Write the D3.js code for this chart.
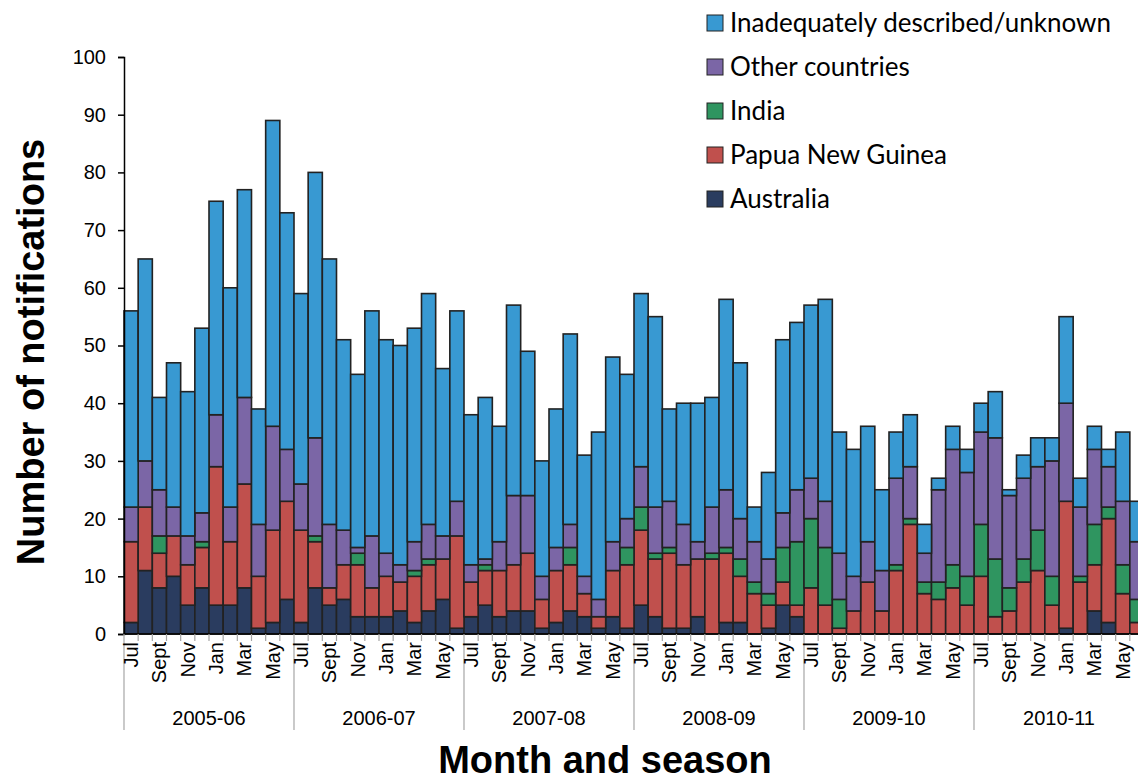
<!DOCTYPE html>
<html>
<head>
<meta charset="utf-8">
<script src="https://cdn.jsdelivr.net/npm/d3@7"></script>
<style>
  body { margin: 0; background: #fff; }
  .axis text { font-family: "Liberation Sans", Arial, sans-serif; font-size: 20px; fill: #000; }
</style>
</head>
<body>
<div class="chart"></div>
<script>
// Data (Jul..Jun per season)
var seasons = ["2005-06", "2006-07", "2007-08", "2008-09", "2009-10", "2010-11"];
var months = ["Jul", "Aug", "Sept", "Oct", "Nov", "Dec", "Jan", "Feb", "Mar", "Apr", "May", "Jun"];
var seriesNames = ["Australia", "Papua New Guinea", "India", "Other countries", "Inadequately described/unknown"];
var seriesColors = ["#2a3c5f", "#c0504d", "#2f9560", "#7b66a6", "#3899d2"];

var australia = [
  2, 11, 8, 10, 5, 8, 5, 5, 8, 1, 2, 6,
  2, 8, 5, 6, 3, 3, 3, 4, 2, 4, 6, 1,
  3, 5, 3, 4, 4, 1, 2, 4, 3, 1, 3, 1,
  5, 3, 1, 1, 3, 0, 2, 2, 0, 1, 5, 3,
  0, 0, 0, 0, 0, 0, 0, 0, 0, 0, 0, 0,
  0, 0, 0, 0, 0, 0, 1, 0, 4, 2, 0, 0
];
var papuaNewGuinea = [
  14, 11, 6, 7, 7, 7, 24, 11, 18, 9, 16, 17,
  16, 8, 3, 6, 9, 5, 7, 5, 8, 8, 7, 16,
  6, 6, 8, 8, 10, 5, 9, 8, 4, 2, 8, 11,
  13, 10, 13, 11, 10, 13, 12, 8, 7, 4, 4, 2,
  8, 5, 1, 4, 9, 4, 11, 19, 7, 6, 8, 5,
  10, 3, 4, 9, 11, 5, 22, 9, 8, 18, 7, 2
];
var india = [
  0, 0, 3, 0, 0, 1, 0, 0, 0, 0, 0, 0,
  0, 1, 0, 0, 2, 0, 0, 0, 1, 1, 0, 0,
  0, 1, 0, 0, 0, 0, 0, 3, 0, 0, 0, 3,
  4, 1, 1, 0, 0, 1, 1, 3, 2, 2, 6, 11,
  12, 10, 5, 0, 0, 0, 1, 1, 2, 3, 4, 5,
  9, 10, 4, 4, 7, 5, 0, 1, 7, 2, 5, 4
];
var otherCountries = [
  6, 8, 8, 5, 5, 5, 9, 6, 15, 9, 18, 9,
  8, 17, 11, 6, 1, 9, 4, 3, 5, 6, 4, 6,
  3, 1, 5, 12, 10, 4, 4, 4, 3, 3, 5, 5,
  7, 8, 8, 7, 3, 8, 10, 7, 7, 6, 6, 9,
  7, 8, 8, 6, 7, 7, 15, 9, 5, 16, 20, 18,
  16, 21, 16, 14, 11, 20, 17, 12, 13, 7, 11, 10
];
var unknown = [
  34, 35, 16, 25, 25, 32, 37, 38, 36, 20, 53, 41,
  33, 46, 46, 33, 30, 39, 37, 38, 37, 40, 29, 33,
  26, 28, 20, 33, 25, 20, 24, 33, 21, 29, 32, 25,
  30, 33, 16, 21, 24, 19, 33, 27, 6, 15, 30, 29,
  30, 35, 21, 22, 20, 14, 8, 9, 5, 2, 4, 4,
  5, 8, 1, 4, 5, 4, 15, 5, 4, 3, 12, 7
];
var yTicks = [0, 10, 20, 30, 40, 50, 60, 70, 80, 90, 100];

// Set up the chart
var svgWidth = 1138;
var svgHeight = 783;
var plotLeft = 124, plotRight = 1144, plotTop = 57, plotBottom = 634;

var svg = d3.select(".chart")
  .append("svg")
  .attr("width", svgWidth)
  .attr("height", svgHeight)
  .style("display", "block");

// build the table for d3.stack
var allSeries = [australia, papuaNewGuinea, india, otherCountries, unknown];
var table = australia.map(function(d, i) {
  var row = { idx: i };
  seriesNames.forEach(function(name, s) { row[name] = allSeries[s][i]; });
  return row;
});
var stacked = d3.stack().keys(seriesNames)(table);

var xScale = d3.scaleBand()
  .domain(d3.range(table.length))
  .range([plotLeft, plotRight])
  .padding(0);
var yScale = d3.scaleLinear().domain([0, 100]).range([plotBottom, plotTop]);

// bars
var layers = svg.append("g")
  .selectAll("g")
  .data(stacked)
  .enter()
  .append("g")
  .attr("fill", function(d, i) { return seriesColors[i]; });

layers.selectAll("rect")
  .data(function(d) { return d.filter(function(p) { return p[1] - p[0] > 0; }); })
  .enter()
  .append("rect")
  .attr("x", function(p) { return xScale(p.data.idx); })
  .attr("width", xScale.bandwidth())
  .attr("y", function(p) { return yScale(p[1]); })
  .attr("height", function(p) { return yScale(p[0]) - yScale(p[1]); })
  .attr("stroke", "#222")
  .attr("stroke-width", 1.6);

// y axis
var leftAxis = d3.axisLeft(yScale).tickValues(yTicks).tickSize(6).tickPadding(12);
svg.append("g")
  .attr("class", "axis")
  .attr("transform", "translate(" + plotLeft + ",0)")
  .call(leftAxis)
  .call(function(g) {
    g.select(".domain").attr("stroke", "#000").attr("stroke-width", 1.5);
    g.selectAll(".tick line").attr("stroke", "#000").attr("stroke-width", 1.5);
  });

// x axis: baseline, month ticks, season separators
var xg = svg.append("g").attr("class", "axis");
xg.append("line")
  .attr("x1", plotLeft).attr("x2", plotRight)
  .attr("y1", plotBottom).attr("y2", plotBottom)
  .attr("stroke", "#000").attr("stroke-width", 1.5);

xg.selectAll(".mtick")
  .data(d3.range(table.length + 1))
  .enter()
  .append("line")
  .attr("x1", function(i) { return plotLeft + i * xScale.step(); })
  .attr("x2", function(i) { return plotLeft + i * xScale.step(); })
  .attr("y1", plotBottom)
  .attr("y2", function(i) { return i % 12 === 0 ? 730 : plotBottom + 7; })
  .attr("stroke", "#a6a6a6")
  .attr("stroke-width", 1.2);

xg.selectAll(".mlabel")
  .data(table.filter(function(d) { return d.idx % 2 === 0; }))
  .enter()
  .append("text")
  .attr("transform", function(d) {
    return "translate(" + (xScale(d.idx) + xScale.bandwidth() / 2) + "," + (plotBottom + 8) + ") rotate(-90)";
  })
  .attr("dy", "0.35em")
  .style("text-anchor", "end")
  .text(function(d) { return months[d.idx % 12]; });

xg.selectAll(".slabel")
  .data(seasons)
  .enter()
  .append("text")
  .attr("x", function(d, i) { return plotLeft + (i * 12 + 6) * xScale.step(); })
  .attr("y", 725)
  .style("text-anchor", "middle")
  .text(function(d) { return d; });

// axis titles
svg.append("text")
  .attr("transform", "translate(44,352) rotate(-90)")
  .style("text-anchor", "middle")
  .style("font-family", "Liberation Sans, Arial, sans-serif")
  .style("font-weight", "bold")
  .style("font-size", "38px")
  .text("Number of notifications");

svg.append("text")
  .attr("x", 605)
  .attr("y", 773)
  .style("text-anchor", "middle")
  .style("font-family", "Liberation Sans, Arial, sans-serif")
  .style("font-weight", "bold")
  .style("font-size", "38px")
  .text("Month and season");

// legend (top entry is the top of the stack)
var legend = svg.append("g");
var legendOrder = [4, 3, 2, 1, 0];
legendOrder.forEach(function(s, row) {
  var cy = 23 + row * 44;
  legend.append("rect")
    .attr("x", 707).attr("y", cy - 8)
    .attr("width", 16).attr("height", 16)
    .attr("fill", seriesColors[s])
    .attr("stroke", "#222").attr("stroke-width", 1);
  legend.append("text")
    .attr("x", 730).attr("y", cy)
    .attr("dy", "0.35em")
    .style("font-family", "Lato, 'Noto Sans', sans-serif")
    .style("font-size", "26px")
    .text(seriesNames[s]);
});
</script>
</body>
</html>
